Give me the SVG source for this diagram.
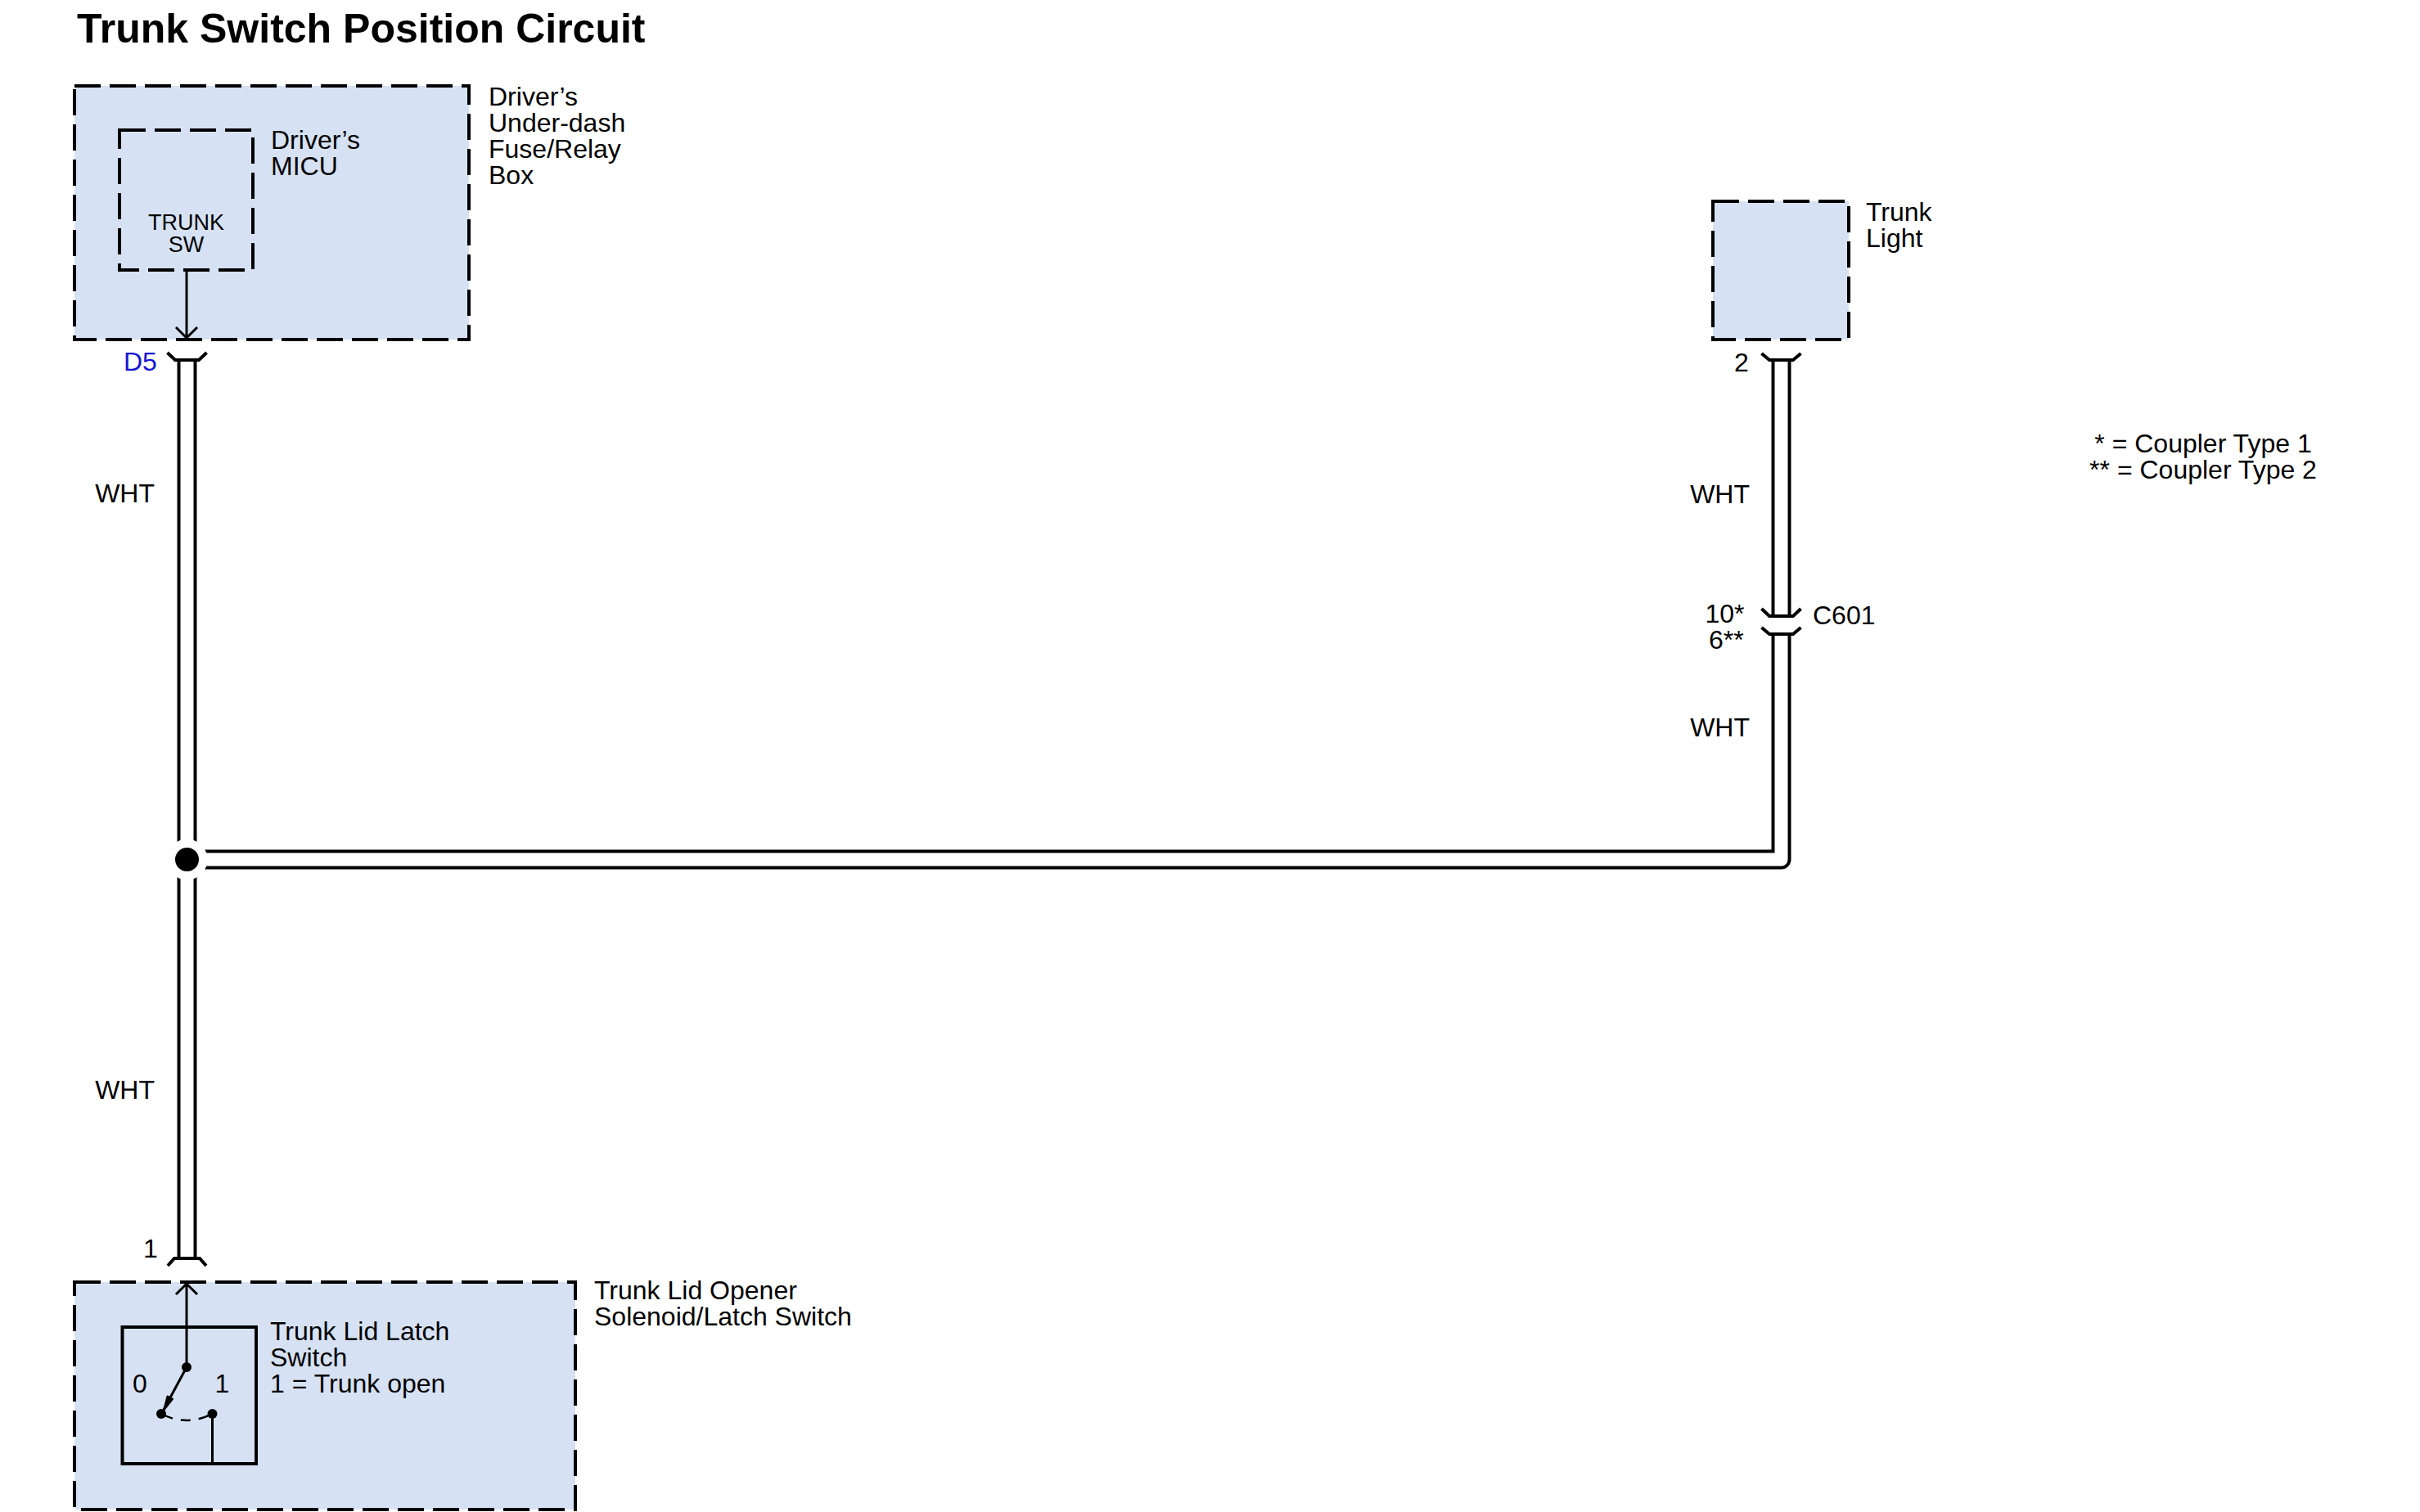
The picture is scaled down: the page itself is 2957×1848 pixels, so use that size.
<svg xmlns="http://www.w3.org/2000/svg" width="2957" height="1848" viewBox="0 0 2957 1848">
<style>
text{font-family:"Liberation Sans",Arial,sans-serif;font-size:32px;fill:#000}
.title{font-size:50px;font-weight:bold}
.small{font-size:27px}
.blue{fill:#1414d2}
.dbox{fill:#d6e2f4;stroke:#000;stroke-width:4;stroke-dasharray:32 11}
.sbox{fill:none;stroke:#000;stroke-width:4}
.ln{fill:none;stroke:#000;stroke-width:3}
.cap{fill:none;stroke:#000;stroke-width:4;stroke-linejoin:miter}
.wo{fill:none;stroke:#000;stroke-width:24;stroke-linejoin:round}
.wi{fill:none;stroke:#fff;stroke-width:16;stroke-linejoin:round}
</style>
<rect width="2957" height="1848" fill="#fff"/>
<text class="title" x="94" y="52">Trunk Switch Position Circuit</text>

<g id="fuse-relay-box">
<rect class="dbox" x="91" y="105" width="482" height="310"/>
<text x="597" y="129">Driver’s</text>
<text x="597" y="161">Under-dash</text>
<text x="597" y="193">Fuse/Relay</text>
<text x="597" y="225">Box</text>
</g>
<g id="micu">
<rect class="dbox" x="146" y="159" width="163" height="171"/>
<text x="331" y="182">Driver’s</text>
<text x="331" y="214">MICU</text>
<text class="small" x="227.5" y="281" text-anchor="middle">TRUNK</text>
<text class="small" x="227.5" y="308" text-anchor="middle">SW</text>
<path class="ln" d="M228 330V413M215 400L228 413L241 400"/>
</g>

<g id="trunk-light">
<rect class="dbox" x="2093" y="246" width="166" height="169"/>
<text x="2280" y="270">Trunk</text>
<text x="2280" y="302">Light</text>
</g>

<g id="trunk-lid-opener">
<rect class="dbox" x="91" y="1567" width="612" height="278"/>
<text x="726" y="1588">Trunk Lid Opener</text>
<text x="726" y="1620">Solenoid/Latch Switch</text>
<rect class="sbox" x="149.5" y="1622" width="163.5" height="167"/>
<text x="330" y="1638">Trunk Lid Latch</text>
<text x="330" y="1670">Switch</text>
<text x="330" y="1702">1 = Trunk open</text>
<text x="162" y="1702">0</text>
<text x="262.5" y="1702">1</text>
<path class="ln" d="M228 1671V1569M215 1582L228 1569L241 1582"/>
<path class="ln" d="M228 1671L200 1723"/>
<path d="M200 1724L204.5 1706.5L211 1710Z" fill="#000" stroke="#000" stroke-width="2" stroke-linejoin="round"/>
<path d="M197 1728Q228 1744 259.5 1728" fill="none" stroke="#000" stroke-width="2.5" stroke-dasharray="15 10 12 10 30"/>
<path class="ln" d="M259.5 1728V1789"/>
<circle cx="228" cy="1671" r="6"/>
<circle cx="197" cy="1728" r="6"/>
<circle cx="259.5" cy="1728" r="6"/>
</g>

<g id="connectors">
<path class="wo" d="M228.5 440V1538"/>
<path class="wo" d="M2176.5 440V753"/>
<path class="wo" d="M228.5 1050.5H2176.5V775"/>
<path class="wi" d="M228.5 440V1538"/>
<path class="wi" d="M2176.5 440V753"/>
<path class="wi" d="M228.5 1050.5H2176.5V775"/>
<circle cx="228.5" cy="1050.5" r="25" fill="#fff"/>
<circle cx="228.5" cy="1050.5" r="14.5" fill="#000"/>
<path class="cap" d="M204.5 431L214 440H243L252.5 431"/>
<path class="cap" d="M205 1547L213 1538H244L252 1547"/>
<path class="cap" d="M2152.5 432L2162 440H2191L2200.5 432"/>
<path class="cap" d="M2152.5 744L2162 753H2191L2200.5 744"/>
<path class="cap" d="M2152.5 767L2162 775H2191L2200.5 767"/>
</g>

<g id="labels">
<text class="blue" x="151" y="453">D5</text>
<text x="189" y="614" text-anchor="end">WHT</text>
<text x="189" y="1343" text-anchor="end">WHT</text>
<text x="175" y="1537">1</text>
<text x="2119" y="454">2</text>
<text x="2138" y="615" text-anchor="end">WHT</text>
<text x="2138" y="900" text-anchor="end">WHT</text>
<text x="2083.5" y="761">10*</text>
<text x="2088" y="793">6**</text>
<text x="2215" y="763">C601</text>
<text x="2692" y="553" text-anchor="middle">* = Coupler Type 1</text>
<text x="2692" y="585" text-anchor="middle">** = Coupler Type 2</text>
</g>
</svg>
